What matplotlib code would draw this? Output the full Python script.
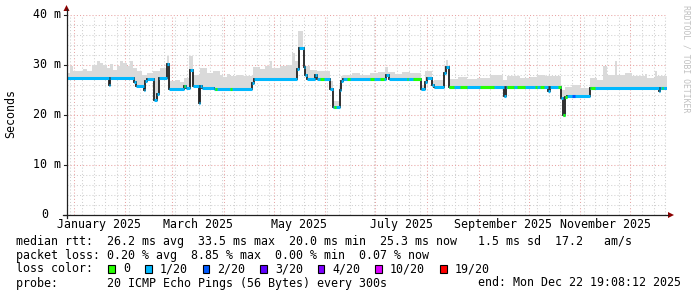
import numpy as np
import matplotlib
matplotlib.use('Agg')
import matplotlib.pyplot as plt
from matplotlib.lines import Line2D
from matplotlib.patches import Polygon, Rectangle

W, H = 697, 297

# x axis is in days since 2025-01-01, graph covers 360 days
t_start, t_end = -4.2, 355.8

# median rtt (ms) as steps: value holds from med_day[i] to med_day[i+1]
med_day = [-4.2, 21.0, 21.8, 36.4, 37.6, 42.0, 43.0, 44.2, 48.4, 50.0,
           51.2, 56.0, 57.4, 66.4, 67.6, 69.6, 71.6, 75.0, 75.6, 77.2,
           84.0, 107.0, 108.0, 134.0, 135.0, 138.0, 139.0, 140.0, 145.0, 146.2,
           154.0, 155.6, 159.6, 160.6, 161.8, 187.6, 189.0, 208.6, 211.0, 212.0,
           215.0, 216.4, 222.4, 223.6, 225.0, 258.0, 259.6, 284.8, 286.0, 292.4,
           293.6, 294.8, 296.0, 309.6, 310.4, 351.0, 352.0]
med_ms = [27.3, 25.9, 27.3, 26.5, 25.8, 24.9, 26.7, 27.2, 23.0, 24.2,
          27.4, 30.1, 25.2, 25.7, 25.4, 29.0, 25.8, 22.3, 25.8, 25.4,
          25.2, 26.3, 27.2, 29.2, 33.3, 29.5, 27.9, 27.2, 27.9, 27.2,
          25.1, 21.5, 25.0, 26.8, 27.2, 27.9, 27.2, 25.1, 26.6, 27.3,
          26.0, 25.5, 28.3, 29.5, 25.5, 23.7, 25.5, 24.8, 25.5, 23.3,
          19.9, 23.5, 23.7, 25.3, 25.4, 24.7, 25.4]

# spans where the loss colour differs from 1/20 (0 = no loss, 2 = 2/20)
loss_from = [66.4, 85.0, 94.0, 148.0, 156.4, 164.0, 178.0, 184.0, 200.0, 203.8,
             225.0, 232.0, 244.0, 260.0, 266.0, 277.0, 280.0, 290.8, 293.6, 299.0,
             310.0, 353.0]
loss_to = [67.0, 86.0, 94.8, 150.0, 157.6, 166.0, 180.0, 186.0, 200.8, 208.6,
           228.0, 236.0, 252.0, 264.0, 271.0, 278.2, 282.0, 292.4, 296.2, 301.0,
           313.0, 353.8]
loss_level = [0, 0, 0, 0, 0, 0, 0, 0, 0, 0,
              0, 0, 0, 0, 0, 0, 0, 0, 0, 2,
              0, 0]

# top of the smoke (max rtt) as steps
smoke_day = [-4.2, -2.0, -0.2, 4.0, 5.8, 8.2, 11.2, 14.2, 16.0, 17.8,
             20.2, 22.0, 23.8, 26.2, 28.0, 29.8, 32.2, 34.0, 35.8, 38.2,
             41.2, 44.2, 47.8, 52.0, 56.2, 57.4, 58.0, 61.0, 64.0, 66.4,
             69.4, 71.8, 76.0, 80.2, 83.8, 88.0, 89.8, 92.2, 94.0, 98.2,
             101.8, 107.2, 107.8, 112.0, 115.0, 118.0, 119.2, 124.0, 128.2, 131.2,
             133.0, 134.8, 137.8, 139.0, 142.0, 146.2, 154.0, 155.8, 159.4, 160.6,
             161.8, 167.2, 172.0, 178.0, 182.8, 187.0, 188.8, 193.0, 197.2, 202.0,
             208.6, 211.0, 215.2, 216.4, 222.4, 223.6, 224.8, 230.8, 236.2, 242.2,
             250.0, 257.8, 260.2, 268.0, 274.0, 278.2, 283.0, 292.6, 295.0, 299.2,
             304.0, 310.0, 314.2, 317.8, 320.2, 325.0, 326.2, 331.0, 335.2, 343.0,
             344.2, 349.0, 350.2]
smoke_top = [28.3, 29.7, 28.8, 28.7, 29.2, 28.8, 30.0, 30.8, 30.3, 29.9,
             29.3, 30.1, 29.0, 29.7, 30.7, 30.3, 29.7, 30.7, 29.3, 28.7,
             28.0, 28.3, 28.7, 29.3, 31.7, 28.0, 26.8, 27.0, 26.6, 27.3,
             31.7, 28.0, 29.3, 28.3, 28.7, 28.0, 27.5, 28.1, 27.7, 28.0,
             27.7, 28.0, 29.6, 29.2, 29.8, 30.7, 29.3, 29.8, 30.0, 32.3,
             30.7, 36.7, 31.3, 29.7, 29.0, 28.8, 26.7, 22.7, 26.0, 27.7,
             28.0, 28.4, 28.0, 28.3, 28.6, 29.5, 28.5, 28.2, 28.6, 28.3,
             26.0, 28.7, 26.7, 27.0, 29.7, 31.0, 27.2, 27.5, 27.2, 27.3,
             28.0, 27.0, 27.7, 27.3, 27.5, 27.9, 27.7, 25.0, 25.5, 26.0,
             25.3, 27.3, 27.0, 29.7, 28.0, 30.8, 28.0, 28.3, 27.7, 28.1,
             27.3, 28.7, 27.7]

month_start = [0, 31, 59, 90, 120, 151, 181, 212, 243, 273, 304, 334]
label_day = [15.5, 74.5, 135.5, 196.5, 258.0, 319.0]
label_text = ['January 2025', 'March 2025', 'May 2025', 'July 2025',
              'September 2025', 'November 2025']
ytick_vals = [0, 10, 20, 30, 40]
ytick_text = ['0', '10 m', '20 m', '30 m', '40 m']

loss_colors = ['#26ff00', '#00b8ff', '#0059ff', '#5e00ff', '#7e00ff', '#dd00ff', '#ff0000']
loss_names = ['0', '1/20', '2/20', '3/20', '4/20', '10/20', '19/20']

line_rtt = "median rtt:  26.2 ms avg  33.5 ms max  20.0 ms min  25.3 ms now   1.5 ms sd  17.2   am/s"
line_loss = "packet loss: 0.20 % avg  8.85 % max  0.00 % min  0.07 % now"
line_probe = "probe:       20 ICMP Echo Pings (56 Bytes) every 300s"
line_end = "end: Mon Dec 22 19:08:12 2025"

MONO = 'DejaVu Sans Mono'
FS = 8.35

fig = plt.figure(figsize=(W / 100, H / 100), dpi=100)
fig.patch.set_facecolor('white')
ax = fig.add_axes([66.5 / W, 82 / H, 600 / W, 200 / H])
ax.set_xlim(t_start, t_end)
ax.set_ylim(0, 40)
for s in ax.spines.values():
    s.set_visible(False)

# grid
ax.set_xticks(month_start)
ax.set_xticks(np.arange(-2, 356, 7), minor=True)
ax.set_yticks(ytick_vals)
ax.set_yticks(np.arange(0, 41, 2), minor=True)
ax.tick_params(which='both', length=0, labelbottom=False, labelleft=False)
ax.grid(which='minor', color='#d0d0d0', ls=(0, (1, 2)), lw=0.75, zorder=0)
ax.grid(which='major', color='#e8a4a4', ls=(0, (1, 2)), lw=0.75, zorder=0.5)
ax.set_axisbelow(True)

# smoke
edges = np.union1d(np.union1d(smoke_day, med_day), [t_end])
left = edges[:-1]
top = np.array(smoke_top)[np.searchsorted(smoke_day, left, side='right') - 1]
med_at = np.array(med_ms)[np.searchsorted(med_day, left, side='right') - 1]
ax.stairs(top, edges, baseline=med_at - 0.3, fill=True, color='#dadada', lw=0, zorder=1)

# median: black steps, then loss-coloured segments
med_edges = list(med_day) + [t_end]
ax.stairs(med_ms, med_edges, baseline=None, color='#202020', lw=1.3, zorder=2)
ax.hlines(med_ms, med_edges[:-1], med_edges[1:], color=loss_colors[1], lw=2.2, zorder=3)
for a, b, lv in zip(loss_from, loss_to, loss_level):
    for i in range(len(med_ms)):
        lo, hi = max(a, med_edges[i]), min(b, med_edges[i + 1])
        if hi > lo:
            ax.hlines(med_ms[i], lo, hi, color=loss_colors[lv], lw=2.2, zorder=4)

# tick labels
for d, s in zip(label_day, label_text):
    ax.text(d, -0.047, s, transform=ax.get_xaxis_transform(), ha='center', va='center',
            family=MONO, fontsize=FS)
for v, s in zip(ytick_vals, ytick_text):
    xr = 61.0 if s.endswith('m') else 48.0
    ax.text((xr - 66.5) / 600, v, s, transform=ax.get_yaxis_transform(), ha='right',
            va='center', family=MONO, fontsize=FS)


def fx(x):
    return x / W


def fy(y):
    return 1 - y / H


# axes with arrows
fig.add_artist(Line2D([fx(66.5), fx(66.5)], [fy(218), fy(9)], color='#202020', lw=0.9))
fig.add_artist(Line2D([fx(63), fx(668)], [fy(215), fy(215)], color='#202020', lw=0.9))
for yv in ytick_vals:
    fig.add_artist(Line2D([fx(63.5), fx(66.5)], [fy(215 - yv * 5), fy(215 - yv * 5)],
                          color='#202020', lw=0.8))
fig.add_artist(Polygon([[fx(63.5), fy(11)], [fx(69.5), fy(11)], [fx(66.5), fy(5)]],
                       closed=True, color='#8b0000', lw=0))
fig.add_artist(Polygon([[fx(668), fy(212)], [fx(668), fy(218)], [fx(674), fy(215)]],
                       closed=True, color='#8b0000', lw=0))

# labels
fig.text(fx(11), fy(114), 'Seconds', rotation=90, ha='center', va='center',
         family=MONO, fontsize=FS)
fig.text(fx(686), fy(59), 'RRDTOOL / TOBI OETIKER', rotation=270, ha='center',
         va='center', family=MONO, fontsize=5.9, color='#c0c0c0')

# legend
fig.text(fx(16), fy(241), line_rtt, ha='left', va='center', family=MONO, fontsize=FS)
fig.text(fx(16), fy(255), line_loss, ha='left', va='center', family=MONO, fontsize=FS)
fig.text(fx(16), fy(269), 'loss color:', ha='left', va='center', family=MONO, fontsize=FS)
fig.text(fx(16), fy(283), line_probe, ha='left', va='center', family=MONO, fontsize=FS)
fig.text(fx(681), fy(283), line_end, ha='right', va='center', family=MONO, fontsize=FS)

x = 108.3
for c, name in zip(loss_colors, loss_names):
    fig.add_artist(Rectangle((fx(x), fy(273)), 6.7 / W, 7.7 / H, facecolor=c,
                             edgecolor='black', lw=0.8))
    fig.text(fx(x + 14.7), fy(269), name, ha='left', va='center', family=MONO, fontsize=FS)
    x += 14.7 + 6.97 * len(name) + 15

fig.savefig('out.png', dpi=100)
